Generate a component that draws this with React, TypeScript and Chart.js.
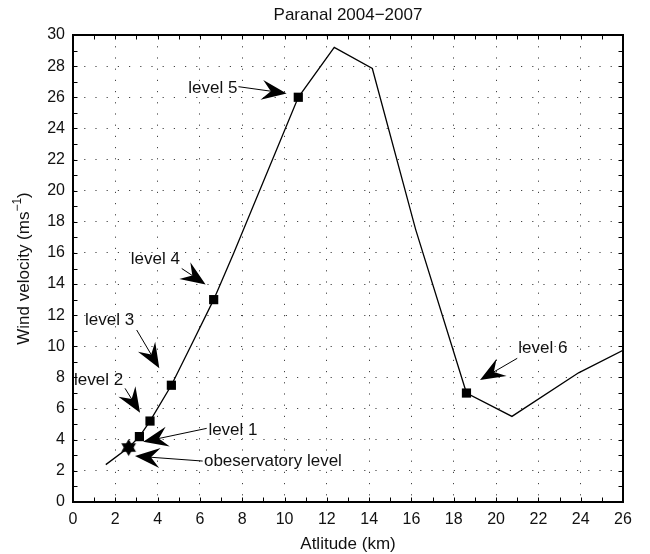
import { useEffect, useRef } from 'react';
import { Chart, registerables } from 'chart.js';

Chart.register(...registerables);

// Wind-speed profile over Paranal: altitude (km) against wind velocity (m/s)
const profileAltitude = [1.55, 2.63, 3.14, 3.64, 4.65, 5.6, 6.65, 7.6, 10.65, 12.35, 14.15, 16.2, 18.6, 20.75, 23.9, 26.0];
const profileSpeed = [2.4, 3.5, 4.2, 5.2, 7.5, 10.1, 13.0, 16.0, 26.0, 29.2, 27.85, 17.5, 7.0, 5.5, 8.3, 9.75];

// Marked turbulence levels 1-6
const levelAltitude = [3.14, 3.64, 4.65, 6.65, 10.65, 18.6];
const levelSpeed = [4.2, 5.2, 7.5, 13.0, 26.0, 7.0];

// Observatory level
const siteAltitude = [2.63];
const siteSpeed = [3.5];

// Callouts: label, text anchor (left, middle) and arrow tail/tip, all in data units
const calloutLabels = ['obeservatory level', 'level 1', 'level 2', 'level 3', 'level 4', 'level 5', 'level 6'];
const calloutTextX = [6.19, 6.4, 0.05, 0.57, 2.73, 5.45, 21.05];
const calloutTextY = [2.63, 4.62, 7.84, 11.64, 15.59, 26.57, 9.87];
const calloutTailX = [6.13, 6.32, 2.46, 3.01, 5.14, 7.82, 21.0];
const calloutTailY = [2.63, 4.73, 7.3, 11.05, 15.0, 26.68, 9.23];
const calloutTipX = [2.93, 3.32, 3.17, 4.08, 6.27, 10.1, 19.24];
const calloutTipY = [2.95, 3.87, 5.74, 8.59, 13.98, 26.25, 7.84];

const FONT = '"Liberation Sans", Arial, Helvetica, sans-serif';

function drawArrow(ctx: CanvasRenderingContext2D, x0: number, y0: number, x1: number, y1: number) {
  const dx = x1 - x0;
  const dy = y1 - y0;
  const len = Math.hypot(dx, dy) || 1;
  const ux = dx / len;
  const uy = dy / len;
  const px = -uy;
  const py = ux;
  const headLen = 25;
  const halfW = 10;
  const notch = 16;
  ctx.beginPath();
  ctx.moveTo(x0, y0);
  ctx.lineTo(x1 - ux * notch, y1 - uy * notch);
  ctx.stroke();
  ctx.beginPath();
  ctx.moveTo(x1, y1);
  ctx.lineTo(x1 - ux * headLen + px * halfW, y1 - uy * headLen + py * halfW);
  ctx.lineTo(x1 - ux * notch, y1 - uy * notch);
  ctx.lineTo(x1 - ux * headLen - px * halfW, y1 - uy * headLen - py * halfW);
  ctx.closePath();
  ctx.fill();
}

function makeHexagram(r: number): HTMLCanvasElement {
  const size = Math.ceil(r * 2 + 2);
  const c = document.createElement('canvas');
  c.width = size;
  c.height = size;
  const g = c.getContext('2d')!;
  const cx = size / 2;
  const cy = size / 2;
  g.fillStyle = '#000';
  for (const start of [-Math.PI / 2, Math.PI / 2]) {
    g.beginPath();
    for (let k = 0; k < 3; k++) {
      const a = start + (k * 2 * Math.PI) / 3;
      const x = cx + r * Math.cos(a);
      const y = cy + r * Math.sin(a);
      if (k === 0) g.moveTo(x, y);
      else g.lineTo(x, y);
    }
    g.closePath();
    g.fill();
  }
  return c;
}

const decorations = {
  id: 'decorations',
  afterDatasetsDraw(chart: any) {
    const { ctx, chartArea: a } = chart;
    const xs = chart.scales.x;
    const ys = chart.scales.y;
    ctx.save();

    // callout arrows and their labels
    ctx.strokeStyle = '#000';
    ctx.fillStyle = '#000';
    ctx.lineWidth = 1;
    for (let i = 0; i < calloutLabels.length; i++) {
      drawArrow(
        ctx,
        xs.getPixelForValue(calloutTailX[i]),
        ys.getPixelForValue(calloutTailY[i]),
        xs.getPixelForValue(calloutTipX[i]),
        ys.getPixelForValue(calloutTipY[i])
      );
    }
    ctx.font = `17px ${FONT}`;
    ctx.textAlign = 'left';
    ctx.textBaseline = 'middle';
    ctx.fillStyle = '#111';
    for (let i = 0; i < calloutLabels.length; i++) {
      ctx.fillText(calloutLabels[i], xs.getPixelForValue(calloutTextX[i]), ys.getPixelForValue(calloutTextY[i]));
    }

    // inward tick marks on all four sides, one per unit
    ctx.strokeStyle = '#000';
    ctx.lineWidth = 1;
    const tl = 4.5;
    ctx.beginPath();
    for (let v = Math.ceil(xs.min); v <= xs.max; v++) {
      const p = Math.round(xs.getPixelForValue(v)) + 0.5;
      ctx.moveTo(p, a.bottom);
      ctx.lineTo(p, a.bottom - tl);
      ctx.moveTo(p, a.top);
      ctx.lineTo(p, a.top + tl);
    }
    for (let v = Math.ceil(ys.min); v <= ys.max; v++) {
      const p = Math.round(ys.getPixelForValue(v)) + 0.5;
      ctx.moveTo(a.left, p);
      ctx.lineTo(a.left + tl, p);
      ctx.moveTo(a.right, p);
      ctx.lineTo(a.right - tl, p);
    }
    ctx.stroke();

    // axes box
    ctx.lineWidth = 2;
    ctx.strokeRect(a.left, a.top, a.right - a.left, a.bottom - a.top);

    // title
    ctx.fillStyle = '#111';
    ctx.font = `17px ${FONT}`;
    ctx.textAlign = 'center';
    ctx.textBaseline = 'middle';
    ctx.fillText('Paranal 2004\u22122007', (a.left + a.right) / 2, 15);

    // x axis title
    ctx.fillText('Atlitude (km)', (a.left + a.right) / 2, 544);

    // y axis title with superscript unit
    const main = 'Wind velocity (ms';
    const sup = '\u22121';
    const tail = ')';
    ctx.font = `17px ${FONT}`;
    const w1 = ctx.measureText(main).width;
    const w3 = ctx.measureText(tail).width;
    ctx.font = `12px ${FONT}`;
    const w2 = ctx.measureText(sup).width;
    const total = w1 + w2 + w3;
    ctx.translate(24, (a.top + a.bottom) / 2);
    ctx.rotate(-Math.PI / 2);
    ctx.textAlign = 'left';
    let x = -total / 2;
    ctx.font = `17px ${FONT}`;
    ctx.fillText(main, x, 0);
    x += w1;
    ctx.font = `12px ${FONT}`;
    ctx.fillText(sup, x, -6);
    x += w2;
    ctx.font = `17px ${FONT}`;
    ctx.fillText(tail, x, 0);

    ctx.restore();
  },
};

export default function App() {
  const canvasRef = useRef<HTMLCanvasElement | null>(null);

  useEffect(() => {
    const canvas = canvasRef.current;
    if (!canvas) return;
    const star = makeHexagram(8.5);

    const chart = new Chart(canvas, {
      type: 'scatter',
      data: {
        datasets: [
          {
            label: 'observatory',
            data: siteAltitude.map((v, i) => ({ x: v, y: siteSpeed[i] })),
            pointStyle: star as any,
            pointRadius: 9,
            showLine: false,
          },
          {
            label: 'levels',
            data: levelAltitude.map((v, i) => ({ x: v, y: levelSpeed[i] })),
            pointStyle: 'rect',
            pointRadius: 6.5,
            backgroundColor: '#000',
            borderColor: '#000',
            borderWidth: 0,
            showLine: false,
          },
          {
            label: 'profile',
            data: profileAltitude.map((v, i) => ({ x: v, y: profileSpeed[i] })),
            showLine: true,
            borderColor: '#000',
            borderWidth: 1.3,
            pointRadius: 0,
            tension: 0,
          },
        ],
      },
      options: {
        responsive: false,
        animation: false,
        events: [],
        layout: { padding: { top: 35, right: 27, left: 0, bottom: 0 } },
        plugins: {
          legend: { display: false },
          tooltip: { enabled: false },
          title: { display: false },
        },
        scales: {
          x: {
            type: 'linear',
            min: 0,
            max: 26,
            afterFit: (s: any) => {
              s.height = 52;
            },
            ticks: {
              stepSize: 2,
              color: '#111',
              padding: 8,
              font: { family: FONT, size: 16 },
              maxRotation: 0,
            },
            grid: { color: '#444', lineWidth: 1, drawTicks: false },
            border: { display: false, dash: [1.2, 10] },
          },
          y: {
            type: 'linear',
            min: 0,
            max: 30,
            afterFit: (s: any) => {
              s.width = 73;
            },
            ticks: {
              stepSize: 2,
              color: '#111',
              padding: 8,
              font: { family: FONT, size: 16 },
            },
            grid: { color: '#444', lineWidth: 1, drawTicks: false },
            border: { display: false, dash: [1.2, 10] },
          },
        },
      },
      plugins: [decorations],
    });

    return () => chart.destroy();
  }, []);

  return (
    <div style={{ position: 'absolute', left: 0, top: 0, width: 650, height: 554, background: '#fff' }}>
      <canvas ref={canvasRef} width={650} height={554} style={{ display: 'block' }} />
    </div>
  );
}
